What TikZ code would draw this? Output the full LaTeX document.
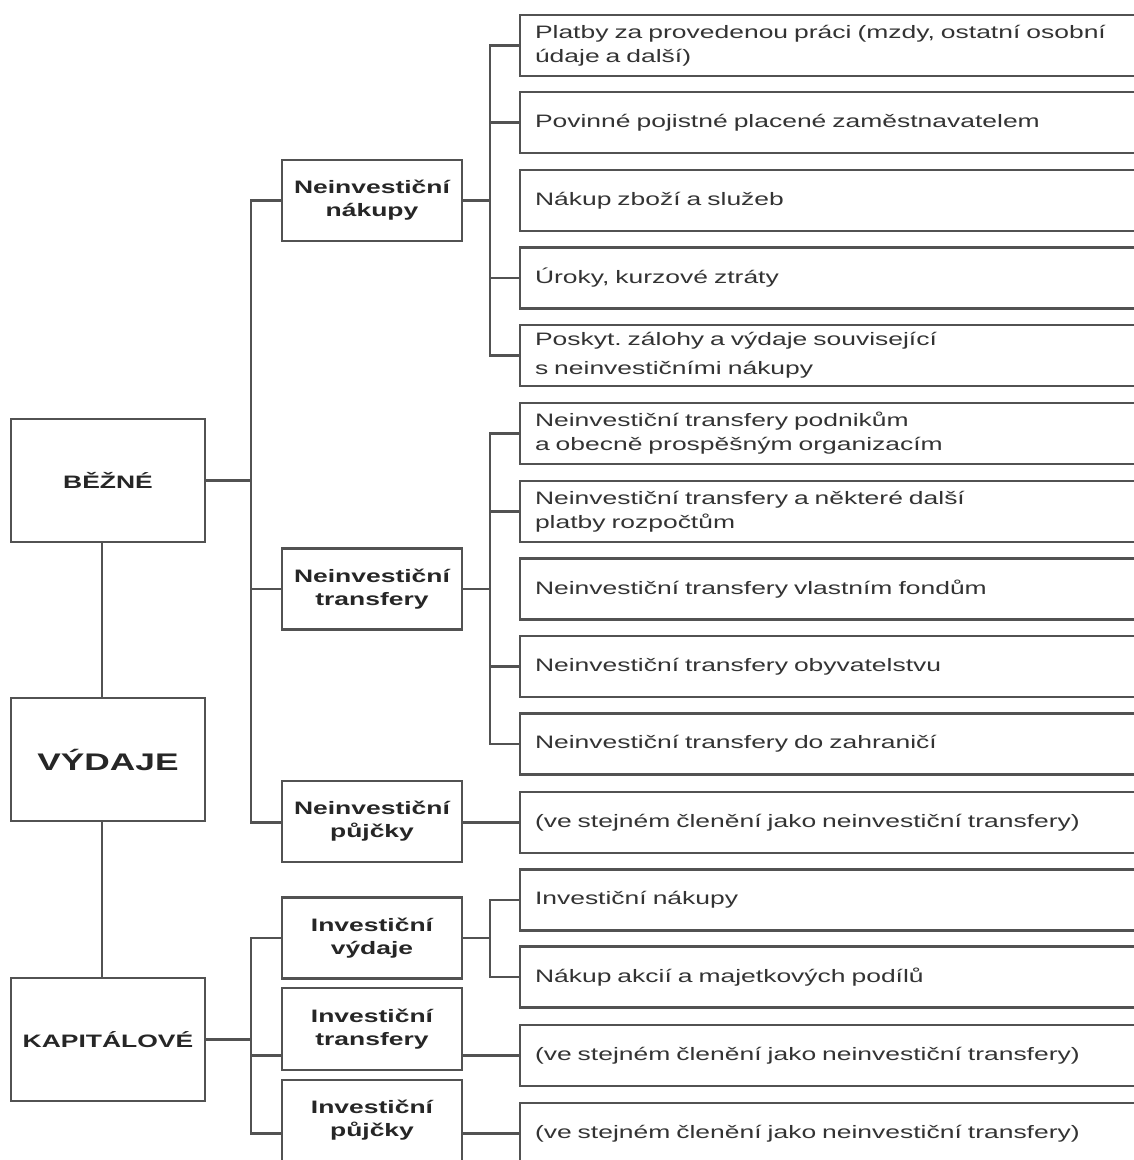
\documentclass[tikz,border=0pt]{standalone}
\usepackage{fontspec}
\newfontfamily\diagfont[FakeStretch=1.47]{Liberation Sans}
\usepackage{tikz}
\frenchspacing

\begin{document}
\begin{tikzpicture}[x=1pt,y=-1pt]
  \tikzset{line/.style = {draw=black!68,line width=2.2pt}}
  \tikzset{link/.style = {line,line cap=rect}}
  \tikzset{main/.style = {shape=rectangle,line,minimum width=194pt,minimum height=123pt,inner sep=0pt,font=\diagfont\bfseries\fontsize{18}{22}\selectfont,text=black!85}}
  \tikzset{group/.style = {shape=rectangle,line,minimum width=180pt,minimum height=81pt,inner sep=0pt,align=center,font=\diagfont\bfseries\fontsize{18}{23}\selectfont,text=black!85}}
  \tikzset{item/.style = {shape=rectangle,line,minimum height=61pt,text width=590pt,inner xsep=15pt,inner ysep=0pt,align=left,font=\diagfont\fontsize{18}{24}\selectfont,text=black!80}}

  \useasboundingbox (0,0) rectangle (1134,1160);
  \fill[white] (0,0) rectangle (1134,1160);
  \clip (0,0) rectangle (1134,1160);

	\node[main] (bezne) at (108,480.5) {BĚŽNÉ};
	\node[main,font=\diagfont\bfseries\fontsize{24}{28}\selectfont] (vydaje) at (108,759.5) {VÝDAJE};
	\node[main] (kapitalove) at (108,1039.5) {KAPITÁLOVÉ};

	\node[group] (nakupy) at (372,200.5) {Neinvestiční\\nákupy};
	\node[group] (ntransfery) at (372,589) {Neinvestiční\\transfery};
	\node[group] (npujcky) at (372,821.5) {Neinvestiční\\půjčky};
	\node[group] (ivydaje) at (372,938) {Investiční\\výdaje};
	\node[group,minimum height=82pt] (itransfery) at (372,1029) {Investiční\\transfery};
	\node[group] (ipujcky) at (372,1120.5) {Investiční\\půjčky};

	\node[item] (n1) at (830,45.5) {Platby za provedenou práci (mzdy, ostatní osobní\\údaje a další)};
	\node[item] (n2) at (830,122.5) {Povinné pojistné placené zaměstnavatelem};
	\node[item] (n3) at (830,200.5) {Nákup zboží a služeb};
	\node[item] (n4) at (830,278) {Úroky, kurzové ztráty};
	\node[item] (n5) at (830,355.5) {Poskyt. zálohy a výdaje související\\[5pt]s neinvestičními nákupy};
	\node[item] (t1) at (830,433.5) {Neinvestiční transfery podnikům\\a obecně prospěšným organizacím};
	\node[item] (t2) at (830,511.5) {Neinvestiční transfery a některé další\\platby rozpočtům};
	\node[item] (t3) at (830,589) {Neinvestiční transfery vlastním fondům};
	\node[item] (t4) at (830,666.5) {Neinvestiční transfery obyvatelstvu};
	\node[item] (t5) at (830,744) {Neinvestiční transfery do zahraničí};
	\node[item] (p1) at (830,822.5) {(ve stejném členění jako neinvestiční transfery)};
	\node[item] (i1) at (830,900) {Investiční nákupy};
	\node[item] (i2) at (830,977) {Nákup akcií a majetkových podílů};
	\node[item] (i3) at (830,1055.5) {(ve stejném členění jako neinvestiční transfery)};
	\node[item] (i4) at (830,1133.5) {(ve stejném členění jako neinvestiční transfery)};

	\coordinate (bus) at (251,0);
	\coordinate (sub) at (490,0);

	\draw[link] ([xshift=-6pt]bezne.south) -- ([xshift=-6pt]vydaje.north);
	\draw[link] ([xshift=-6pt]vydaje.south) -- ([xshift=-6pt]kapitalove.north);

	\draw[link] (bezne.east) -- (bus |- bezne.east);
	\draw[link] (bus |- nakupy) -- (bus |- p1);
       \foreach \to in {nakupy, ntransfery}
    \draw[link] (bus |- \to) -- (\to.west);
	\draw[link] (bus |- p1) -- (npujcky.west |- p1);

	\draw[link] (nakupy.east) -- (sub |- nakupy);
	\draw[link] (sub |- n1) -- (sub |- n5);
       \foreach \to in {n1, n2, n4, n5}
    \draw[link] (sub |- \to) -- (\to.west);

	\draw[link] (ntransfery.east) -- (sub |- ntransfery);
	\draw[link] (sub |- t1) -- (sub |- t5);
       \foreach \to in {t1, t2, t4, t5}
    \draw[link] (sub |- \to) -- (\to.west);

	\draw[link] (npujcky.east |- p1) -- (p1.west);

	\draw[link] (kapitalove.east) -- (bus |- kapitalove.east);
	\draw[link] (bus |- ivydaje) -- (bus |- i4);
	\draw[link] (bus |- ivydaje) -- (ivydaje.west);
       \foreach \from/\to in {itransfery/i3, ipujcky/i4}
    {\draw[link] (bus |- \to) -- (\from.west |- \to);
     \draw[link] (\from.east |- \to) -- (\to.west);}

	\draw[link] (ivydaje.east) -- (sub |- ivydaje);
	\draw[link] (sub |- i1) -- (sub |- i2);
       \foreach \to in {i1, i2}
    \draw[link] (sub |- \to) -- (\to.west);
\end{tikzpicture}
\end{document}
